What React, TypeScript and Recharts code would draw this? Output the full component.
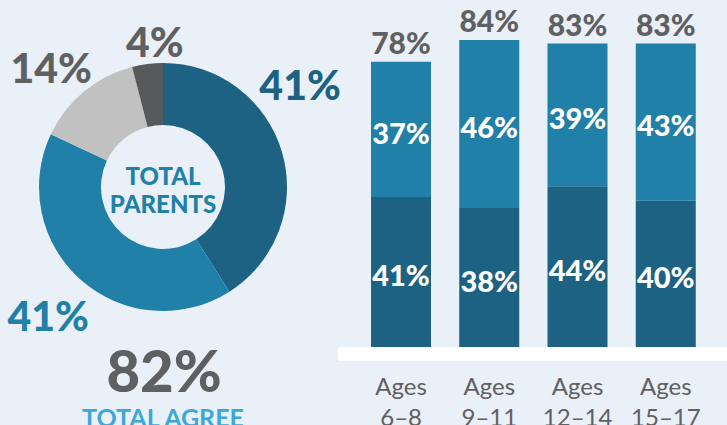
import React from 'react';
import { PieChart, Pie, Cell, BarChart, Bar, XAxis, YAxis, LabelList } from 'recharts';

// ---- Data ----
const pieNames = ['Strongly agree', 'Somewhat agree', 'Somewhat disagree', 'Strongly disagree'];
const pieValues = [41, 41, 14, 4];
const pieCenterLines = ['TOTAL', 'PARENTS'];
const totalAgreeValue = '82%';
const totalAgreeLabel = 'TOTAL AGREE';

const ageGroups = ['6–8', '9–11', '12–14', '15–17'];
const agePrefix = 'Ages';
const stronglyAgree = [41, 38, 44, 40];
const somewhatAgree = [37, 46, 39, 43];
const totalAgree = [78, 84, 83, 83];

// ---- Styles ----
const BG = '#e9f0f8';
const DARK_BLUE = '#1d6283';
const MID_BLUE = '#2180a8';
const LIGHT_BLUE = '#3aa8d8';
const LIGHT_GRAY = '#c1c1c1';
const DARK_GRAY = '#58595b';
const TEXT_GRAY = '#5f6062';
const FONT = 'Lato, "Open Sans", sans-serif';

const pieColors = [DARK_BLUE, MID_BLUE, LIGHT_GRAY, DARK_GRAY];
const pieLabelColors = [DARK_BLUE, MID_BLUE, TEXT_GRAY, TEXT_GRAY];
// label placement tweaks (angle shift in degrees, radius in px)
const pieLabelPlacement = [
  { shift: 20.5, r: 171 },
  { shift: -0.5, r: 172 },
  { shift: 3.4, r: 164 },
  { shift: -4, r: 146 },
];

const pieData = pieNames.map((name, i) => ({ name, value: pieValues[i] }));
const barData = ageGroups.map((g, i) => ({
  group: g,
  strongly: stronglyAgree[i],
  somewhat: somewhatAgree[i],
  total: totalAgree[i],
}));

const RAD = Math.PI / 180;

const renderPieLabel = (props: any) => {
  const { cx, cy, midAngle, index, value } = props;
  const p = pieLabelPlacement[index];
  const a = (midAngle + p.shift) * RAD;
  const x = cx + p.r * Math.cos(a);
  const y = cy - p.r * Math.sin(a);
  return (
    <text
      x={x}
      y={y}
      textAnchor="middle"
      dominantBaseline="central"
      fill={pieLabelColors[index]}
      fontFamily={FONT}
      fontWeight={900}
      fontSize={41}
    >
      {`${value}%`}
    </text>
  );
};

const AgeTick = (props: any) => {
  const { x, y, payload } = props;
  return (
    <g>
      <text x={x} y={y + 40} textAnchor="middle" fill={TEXT_GRAY} fontFamily={FONT} fontSize={24}>
        {agePrefix}
      </text>
      <text x={x} y={y + 71} textAnchor="middle" fill={TEXT_GRAY} fontFamily={FONT} fontSize={24}>
        {payload.value}
      </text>
    </g>
  );
};

const pct = (v: any) => `${v}%`;

export default function App() {
  return (
    <div
      style={{
        position: 'absolute',
        left: 0,
        top: 0,
        width: 727,
        height: 425,
        background: BG,
        overflow: 'hidden',
        fontFamily: FONT,
      }}
    >
      <div style={{ position: 'absolute', left: 0, top: 0 }}>
        <PieChart width={340} height={425} margin={{ top: 0, right: 0, bottom: 0, left: 0 }}>
          <Pie
            data={pieData}
            dataKey="value"
            nameKey="name"
            cx={163}
            cy={187}
            innerRadius={62}
            outerRadius={124}
            startAngle={90}
            endAngle={-270}
            stroke="none"
            label={renderPieLabel}
            labelLine={false}
            isAnimationActive={false}
          >
            {pieData.map((d, i) => (
              <Cell key={d.name} fill={pieColors[i]} />
            ))}
          </Pie>
          <text x={163} y={175} textAnchor="middle" dominantBaseline="central" fill={MID_BLUE} fontFamily={FONT} fontWeight={900} fontSize={24}>
            {pieCenterLines[0]}
          </text>
          <text x={163} y={203} textAnchor="middle" dominantBaseline="central" fill={MID_BLUE} fontFamily={FONT} fontWeight={900} fontSize={24}>
            {pieCenterLines[1]}
          </text>
          <text x={164} y={369} textAnchor="middle" dominantBaseline="central" fill={TEXT_GRAY} fontFamily={FONT} fontWeight={900} fontSize={58}>
            {totalAgreeValue}
          </text>
          <text x={163} y={417} textAnchor="middle" dominantBaseline="central" fill={LIGHT_BLUE} fontFamily={FONT} fontWeight={700} fontSize={25}>
            {totalAgreeLabel}
          </text>
        </PieChart>
      </div>
      <div style={{ position: 'absolute', left: 338, top: 0 }}>
        <BarChart
          width={389}
          height={425}
          data={barData}
          margin={{ top: 18, right: 0, bottom: 0, left: 0 }}
          barSize={60}
        >
          <YAxis hide domain={[0, 90]} />
          <XAxis
            dataKey="group"
            height={78}
            padding={{ left: 19, right: 17 }}
            tickLine={false}
            axisLine={{ stroke: '#ffffff', strokeWidth: 14, transform: 'translate(0,7)' }}
            tick={<AgeTick />}
            interval={0}
          />
          <Bar dataKey="strongly" stackId="a" fill={DARK_BLUE} isAnimationActive={false}>
            <LabelList dataKey="strongly" position="center" dy={4} formatter={pct} fill="#ffffff" fontFamily={FONT} fontWeight={900} fontSize={29} />
          </Bar>
          <Bar dataKey="somewhat" stackId="a" fill={MID_BLUE} isAnimationActive={false}>
            <LabelList dataKey="somewhat" position="center" dy={4} formatter={pct} fill="#ffffff" fontFamily={FONT} fontWeight={900} fontSize={29} />
            <LabelList dataKey="total" position="top" offset={8} formatter={pct} fill={TEXT_GRAY} fontFamily={FONT} fontWeight={900} fontSize={30} />
          </Bar>
        </BarChart>
      </div>
    </div>
  );
}
